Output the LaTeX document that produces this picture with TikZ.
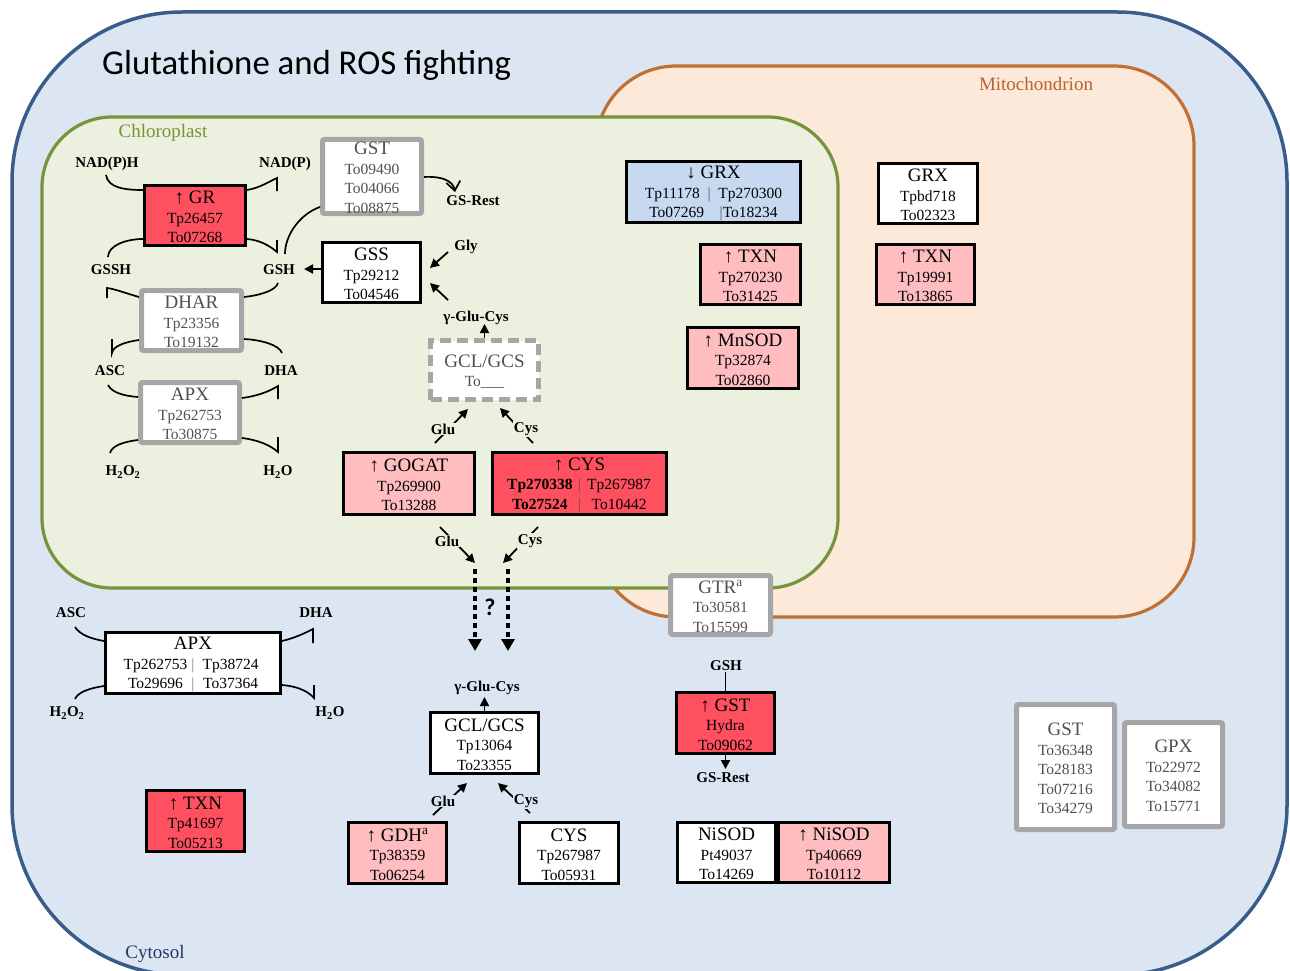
\documentclass[tikz,border=0pt]{standalone}
\usepackage{fontspec}
\setmainfont{Liberation Serif}
\newfontfamily\calibri{Carlito}
\usetikzlibrary{arrows.meta}
\definecolor{cytfill}{HTML}{DCE6F2}
\definecolor{cytline}{HTML}{385D8A}
\definecolor{cyttext}{HTML}{1F3864}
\definecolor{chlfill}{HTML}{EBF1DE}
\definecolor{chlline}{HTML}{77933C}
\definecolor{mitfill}{HTML}{FDE9D9}
\definecolor{mitline}{HTML}{C07032}
\definecolor{mittext}{HTML}{B8652D}
\definecolor{redbox}{HTML}{FF505F}
\definecolor{pinkbox}{HTML}{FFBDBF}
\definecolor{bluebox}{HTML}{C6D9F1}
\definecolor{graybd}{HTML}{A6A6A6}
\definecolor{graytx}{HTML}{505050}
\definecolor{barcol}{HTML}{7A4A4A}
\newcommand\ttl[1]{{\fontsize{19}{19.5}\selectfont\rule{0pt}{15.5pt}#1}}
\newcommand\sepbar{{\color{barcol}|}}
\tikzset{
  box/.style={draw=black, line width=2.8pt, rectangle, inner sep=0pt, align=center,
    font=\fontsize{15.5}{19.5}\selectfont, text=black, fill=white},
  gbox/.style={box, draw=graybd, line width=5pt, rounded corners=2pt, text=graytx},
  lbl/.style={font=\bfseries\fontsize{15}{15}\selectfont, inner sep=1pt},
  arr/.style={line width=1.8pt, -{Triangle[length=9pt,width=9pt]}},
  dotarr/.style={line width=4pt, dash pattern=on 5pt off 4pt, -{Triangle[length=12pt,width=13pt]}},
  rxn/.style={line width=1.7pt},
  compart/.style={line width=3.2pt, rounded corners=#1},
}
\begin{document}
\begin{tikzpicture}[x=1pt,y=-1pt]
\useasboundingbox (0,0) rectangle (1290,971);
\fill[white] (0,0) rectangle (1290,971);
\begin{scope}
\clip (0,0) rectangle (1290,971);
% compartments
\filldraw[compart=170, fill=cytfill, draw=cytline, line width=3.5pt] (12,12) rectangle (1287,975);
\filldraw[compart=80, fill=mitfill, draw=mitline] (596,66) rectangle (1194,617);
\filldraw[compart=70, fill=chlfill, draw=chlline] (42,117) rectangle (838,588);
\end{scope}
% titles
\node[anchor=base west, font=\calibri\fontsize{34.8}{35}\selectfont, inner sep=0pt] (title) at (102,75) {Glutathione and ROS fighting};
\node[font=\fontsize{19}{19}\selectfont, text=chlline, inner sep=0pt] (chllbl) at (163,133) {Chloroplast};
\node[font=\fontsize{19}{19}\selectfont, text=mittext, inner sep=0pt] (mitlbl) at (1036,84) {Mitochondrion};
\node[font=\fontsize{19}{19}\selectfont, text=cyttext, inner sep=0pt] (cytlbl) at (155,954) {Cytosol};

% ---------- chloroplast boxes
\node[gbox,minimum width=99pt,minimum height=72pt] (gstC) at (372,176.5) {\ttl{GST}\\To09490\\To04066\\To08875};
\node[box,fill=redbox,minimum width=101pt,minimum height=60pt] (gr) at (195,215.5) {\ttl{↑ GR}\\Tp26457\\To07268};
\node[box,minimum width=98pt,minimum height=60pt] (gss) at (371.5,272.5) {\ttl{GSS}\\Tp29212\\To04546};
\node[gbox,minimum width=100pt,minimum height=60pt] (dhar) at (191.5,320.5) {\ttl{DHAR}\\Tp23356\\To19132};
\node[gbox,minimum width=99pt,minimum height=60pt] (apxC) at (190,412.5) {\ttl{APX}\\Tp262753\\To30875};
\node[gbox,dash pattern=on 11pt off 6pt,rounded corners=0pt,minimum width=108pt,minimum height=59pt] (gclC) at (484.5,370) {\ttl{GCL/GCS}\\To\_\_\_};
\node[box,fill=pinkbox,minimum width=131pt,minimum height=62pt] (gogat) at (409,483.5) {\ttl{↑ GOGAT}\\Tp269900\\To13288};
\node[box,fill=redbox,minimum width=174pt,minimum height=62pt] (cysC) at (579.5,483.5) {\ttl{↑ CYS}\\\makebox[76pt][c]{\textbf{Tp270338}}\sepbar\makebox[76pt][c]{Tp267987}\\\makebox[76pt][c]{\textbf{To27524}}\sepbar\makebox[76pt][c]{To10442}};
\node[box,fill=bluebox,minimum width=174pt,minimum height=61pt] (grxC) at (713.5,192) {\ttl{↓ GRX}\\Tp11178\enspace\sepbar\enspace Tp270300\\To07269\quad\sepbar To18234};
\node[box,fill=pinkbox,minimum width=100pt,minimum height=60pt] (txnC) at (750.5,274.5) {\ttl{↑ TXN}\\Tp270230\\To31425};
\node[box,fill=pinkbox,minimum width=111pt,minimum height=61pt] (mnsod) at (743,358) {\ttl{↑ MnSOD}\\Tp32874\\To02860};
% ---------- mitochondrion boxes
\node[box,minimum width=99pt,minimum height=60pt] (grxM) at (928,193.5) {\ttl{GRX}\\Tpbd718\\To02323};
\node[box,fill=pinkbox,minimum width=98pt,minimum height=60pt] (txnM) at (925.5,274.5) {\ttl{↑ TXN}\\Tp19991\\To13865};
\node[gbox,minimum width=100pt,minimum height=59pt] (gtr) at (720.5,605) {\ttl{GTR\textsuperscript{a}}\\To30581\\To15599};
% ---------- cytosol boxes
\node[box,minimum width=175pt,minimum height=61pt] (apxY) at (193,663) {\ttl{APX}\\\makebox[72pt][c]{Tp262753}{\color{gray}|}\makebox[72pt][c]{Tp38724}\\\makebox[72pt][c]{To29696}{\color{gray}|}\makebox[72pt][c]{To37364}};
\node[box,minimum width=108pt,minimum height=61pt] (gclY) at (484.5,743) {\ttl{GCL/GCS}\\Tp13064\\To23355};
\node[box,fill=redbox,minimum width=98pt,minimum height=61pt] (gstY) at (725.5,723) {\ttl{↑ GST}\\Hydra\\To09062};
\node[box,fill=redbox,minimum width=98pt,minimum height=61pt] (txnY) at (195.5,821) {\ttl{↑ TXN}\\Tp41697\\To05213};
\node[box,fill=pinkbox,minimum width=98pt,minimum height=61pt] (gdh) at (397.5,853) {\ttl{↑ GDH\textsuperscript{a}}\\Tp38359\\To06254};
\node[box,minimum width=99pt,minimum height=61pt] (cysY) at (569,853) {\ttl{CYS}\\Tp267987\\To05931};
\node[box,minimum width=98pt,minimum height=60pt] (nisod1) at (726.5,852.5) {\ttl{NiSOD}\\Pt49037\\To14269};
\node[box,fill=pinkbox,minimum width=111pt,minimum height=60pt] (nisod2) at (834,852.5) {\ttl{↑ NiSOD}\\Tp40669\\To10112};
\node[gbox,minimum width=98pt,minimum height=125pt] (gstR) at (1065.5,767) {\ttl{GST}\\To36348\\To28183\\To07216\\To34279};
\node[gbox,minimum width=98pt,minimum height=104pt] (gpx) at (1173.5,774.5) {\ttl{GPX}\\To22972\\To34082\\To15771};

% ---------- chloroplast labels
\node[lbl] (nadph) at (107,164) {NAD(P)H};
\node[lbl] (nadp) at (285,164) {NAD(P)};
\node[lbl] (gssh) at (111,270) {GSSH};
\node[lbl] (gsh) at (279,270) {GSH};
\node[lbl] (ascC) at (110,371) {ASC};
\node[lbl] (dhaC) at (281,371) {DHA};
\node[lbl] (h2o2C) at (123,472) {H\textsubscript{2}O\textsubscript{2}};
\node[lbl] (h2oC) at (278,472) {H\textsubscript{2}O};
\node[lbl] (gsrestC) at (473,201) {GS-Rest};
\node[lbl] (gly) at (466,247) {Gly};
\node[lbl] (gglucysC) at (476,318) {γ-Glu-Cys};

% GR reactions
\draw[rxn] (106,175) .. controls (108,188) and (125,190) .. (gr.west|-0,190);
\draw[rxn] (gr.west|-0,239) .. controls (125,239) and (108,246) .. (108,257);
\draw[rxn] (gr.east|-0,190) .. controls (260,188) and (270,181) .. (277,178) -- (277,191);
\draw[rxn] (gr.east|-0,239) .. controls (260,240) and (270,246) .. (277,252) -- (277,240);
% GSH -> GST
\draw[rxn] (285,254) .. controls (285,235) and (300,214) .. (gstC.west|-0,207);
\draw[rxn, -{Straight Barb[length=9pt,width=14pt]}] (gstC.east|-0,177) .. controls (440,176) and (453,180) .. (455,192);
% DHAR reactions
\draw[rxn] (dhar.west|-0,297) .. controls (125,293) and (115,289) .. (107,288) -- (107,298);
\draw[rxn] (dhar.west|-0,340) .. controls (125,342) and (113,346) .. (112,353) -- (112,339);
\draw[rxn] (dhar.east|-0,297) .. controls (262,295) and (276,290) .. (278,283);
\draw[rxn] (dhar.east|-0,339) .. controls (262,340) and (279,345) .. (282,353);
% APX chloroplast reactions
\draw[rxn] (108,385) .. controls (112,393) and (125,396) .. (apxC.west|-0,397);
\draw[rxn] (apxC.west|-0,440) .. controls (122,442) and (112,446) .. (110,453);
\draw[rxn] (apxC.east|-0,398) .. controls (258,396) and (270,391) .. (278,386) -- (278,399);
\draw[rxn] (apxC.east|-0,438) .. controls (258,440) and (270,445) .. (278,452) -- (278,437);
% GSS arrows
\draw[arr] (gss.west|-0,269) -- (304,269);
\draw[arr] (448,252) -- (430,268);
\draw[arr] (448,300) -- (430,283);
\draw[arr] (gclC.north) -- (484.5,324);
% Glu / Cys into chloroplast GCL
\coordinate (g1s) at (435,443); \coordinate (g1e) at (468,409);
\coordinate (c1s) at (533,443); \coordinate (c1e) at (500,408);
\draw[arr] (g1s) -- (g1e);
\draw[arr] (c1s) -- (c1e);
\node[lbl, fill=chlfill] (glu1) at (443,429) {Glu};
\node[lbl, fill=chlfill] (cys1) at (526,429) {Cys};
\coordinate (g2s) at (440,527); \coordinate (g2e) at (475,563);
\coordinate (c2s) at (538,527); \coordinate (c2e) at (503,563);
\draw[arr] (g2s) -- (g2e);
\draw[arr] (c2s) -- (c2e);
\node[lbl, fill=chlfill] (glu2) at (447,541) {Glu};
\node[lbl, fill=chlfill] (cys2) at (530,541) {Cys};
% dotted transport
\coordinate (d1s) at (475,569); \coordinate (d1e) at (475,651);
\coordinate (d2s) at (508,569); \coordinate (d2e) at (508,651);
\draw[dotarr] (d1s) -- (d1e);
\draw[dotarr] (d2s) -- (d2e);
\node[font=\calibri\bfseries\fontsize{24}{24}\selectfont, inner sep=0pt] (qm) at (490,607) {?};

% ---------- cytosol labels and connectors
\node[lbl] (gglucysY) at (487,688) {γ-Glu-Cys};
\draw[arr] (gclY.north) -- (484.5,697);
\coordinate (g3s) at (433,815); \coordinate (g3e) at (467,783);
\coordinate (c3s) at (530,813); \coordinate (c3e) at (498,783);
\draw[arr] (g3s) -- (g3e);
\draw[arr] (c3s) -- (c3e);
\node[lbl, fill=cytfill] (glu3) at (443,801) {Glu};
\node[lbl, fill=cytfill] (cys3) at (526,801) {Cys};
\node[lbl] (gshY) at (726,666) {GSH};
\node[lbl] (gsrestY) at (723,778) {GS-Rest};
\draw[rxn] (gshY.south-|gstY.north) -- (gstY.north);
\draw[arr] (gstY.south) -- (725.5,769);
\node[lbl] (ascY) at (71,613) {ASC};
\node[lbl] (dhaY) at (316,613) {DHA};
\node[lbl] (h2o2Y) at (67,713) {H\textsubscript{2}O\textsubscript{2}};
\node[lbl] (h2oY) at (330,713) {H\textsubscript{2}O};
\draw[rxn] (75,627) .. controls (80,635) and (92,639) .. (apxY.west|-0,641);
\draw[rxn] (apxY.west|-0,686) .. controls (90,688) and (78,692) .. (75,699);
\draw[rxn] (apxY.east|-0,641) .. controls (295,638) and (305,633) .. (313,629) -- (313,643);
\draw[rxn] (apxY.east|-0,685) .. controls (295,686) and (307,690) .. (314,698) -- (314,685);
\end{tikzpicture}
\end{document}
